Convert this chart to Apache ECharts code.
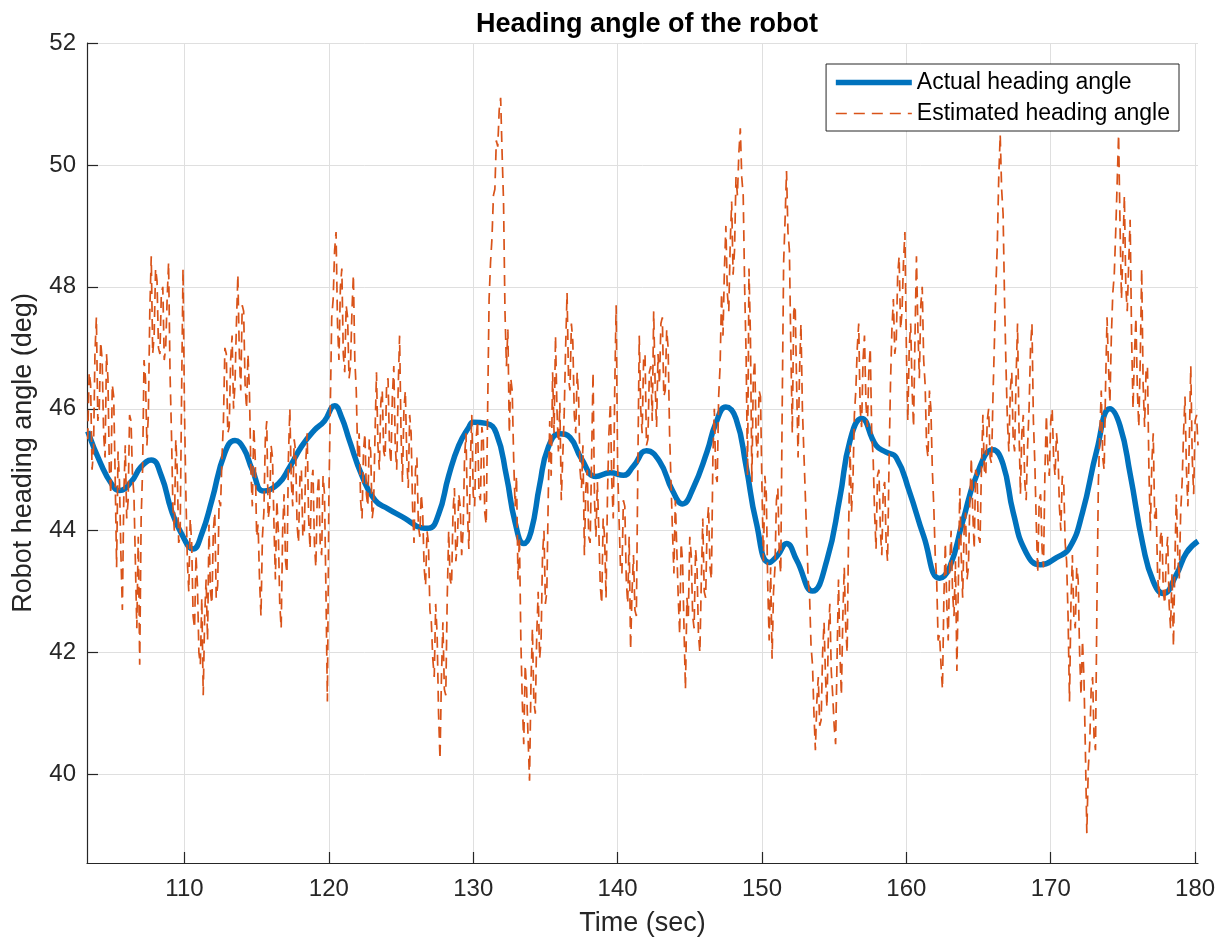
<!DOCTYPE html>
<html>
<head>
<meta charset="utf-8">
<script src="https://cdn.jsdelivr.net/npm/echarts@6/dist/echarts.min.js"></script>
<style>
html,body{margin:0;padding:0;background:#fff;}
#chart{width:1230px;height:943px;}
</style>
</head>
<body>
<div id="chart"></div>
<script>
// ---- data ----
const chartTitle = 'Heading angle of the robot';
const xName = 'Time (sec)';
const yName = 'Robot heading angle (deg)';
const seriesNames = ['Actual heading angle', 'Estimated heading angle'];
const xTicks = [110, 120, 130, 140, 150, 160, 170, 180];
const yTicks = [40, 42, 44, 46, 48, 50, 52];

// Actual heading angle (smooth curve), sample times and values
const actualTime = [103.3,104.2,105.0,105.5,106.3,107.0,107.7,108.4,109.1,109.8,110.6,111.2,111.9,112.8,113.5,114.1,114.7,115.5,116.5,117.3,118.1,119.0,119.7,120.4,120.9,121.4,122.3,123.2,124.1,125.3,126.4,126.9,127.6,128.3,129.0,129.7,130.0,130.9,131.6,132.3,132.9,133.5,134.0,134.6,135.2,136.0,136.7,137.5,138.5,139.5,140.4,141.1,142.0,142.9,143.8,144.5,145.2,146.2,146.8,147.5,148.2,148.9,149.6,150.5,151.1,151.7,152.4,153.5,154.5,155.4,156.1,156.9,157.9,158.6,159.3,160.2,161.2,162.3,163.0,163.9,164.9,166.0,166.7,167.4,168.3,169.3,170.4,171.3,172.2,173.2,174.1,174.8,175.5,176.4,177.1,177.8,178.7,179.4,180.2];
const actualAngle = [45.63,45.1,44.75,44.66,44.8,45.05,45.16,44.9,44.33,43.95,43.70,43.95,44.5,45.28,45.48,45.35,45.0,44.65,44.77,45.05,45.38,45.65,45.8,46.05,45.85,45.5,44.9,44.5,44.36,44.2,44.05,44.04,44.27,44.9,45.4,45.7,45.78,45.76,45.6,44.9,44.14,43.79,43.98,44.75,45.37,45.59,45.53,45.18,44.89,44.95,44.91,45.06,45.31,45.14,44.66,44.44,44.68,45.3,45.76,46.03,45.84,45.06,44.14,43.48,43.6,43.79,43.52,43.01,43.52,44.55,45.48,45.84,45.40,45.29,45.2,44.65,43.91,43.22,43.40,44.15,44.93,45.33,45.09,44.3,43.64,43.44,43.56,43.72,44.3,45.33,46.0,45.72,44.93,43.75,43.17,42.97,43.28,43.64,43.83];

// Estimated heading angle (noisy dashed curve), sampled every 0.1 s from 103.3 s (one row = 1 s)
const estStart = 103.3;
const estStep = 0.1;
const estAngle = [
45.5,46.6,46.4,45.0,45.3,46.9,47.5,45.8,46.0,47.1,
46.8,45.6,45.2,46.9,46.5,45.0,44.6,46.4,46.2,44.9,
43.4,45.3,44.8,43.6,42.7,44.6,45.4,44.2,44.5,45.9,
45.8,44.9,44.6,43.5,42.4,43.9,41.8,44.2,45.0,46.8,
46.5,45.4,45.9,47.6,48.5,46.9,47.2,48.3,48.1,47.0,
46.9,47.9,48.0,46.8,47.0,47.8,48.4,46.6,45.6,44.4,
44.0,45.5,45.0,43.8,43.9,46.2,48.3,46.0,44.6,43.5,
43.0,44.2,43.8,42.6,42.4,43.6,43.1,42.0,41.8,42.9,
41.3,42.6,43.2,42.2,44.1,43.0,42.8,44.0,44.3,42.9,
43.1,44.5,44.4,45.2,45.8,47.0,46.9,45.6,45.7,46.8,
47.2,46.0,46.4,47.4,48.2,46.9,46.3,47.7,47.6,46.4,
46.0,46.9,46.3,45.0,44.4,45.7,45.2,43.9,44.1,43.2,
42.6,43.9,44.3,45.5,45.8,44.2,44.4,45.4,45.2,44.1,
43.2,44.5,44.0,42.8,42.4,44.0,44.6,43.5,43.3,45.2,
46.0,44.8,44.4,45.5,45.3,44.1,43.8,44.9,45.0,43.9,
44.0,45.1,45.6,44.2,43.7,44.8,45.0,43.8,43.4,44.6,
44.9,43.8,43.6,44.9,44.6,43.0,41.2,44.5,46.0,47.5,
47.8,48.6,48.9,47.4,46.8,48.0,48.3,46.9,46.6,47.7,
47.5,46.5,46.7,47.6,48.2,46.8,46.3,45.2,45.6,44.5,
44.2,45.3,45.6,44.6,44.4,45.5,45.3,44.2,44.4,45.6,
46.6,45.4,45.0,46.1,46.3,45.3,45.2,46.4,46.5,45.4,
45.1,46.2,46.7,45.4,45.0,46.3,47.2,45.6,44.8,46.0,
46.3,45.2,44.7,45.9,45.6,44.4,43.8,45.0,45.2,44.1,
43.9,44.6,44.3,43.4,43.1,44.0,43.8,42.7,42.5,41.9,
41.6,42.8,42.3,41.0,40.25,41.6,42.5,41.4,41.3,42.9,
44.0,43.2,43.1,44.3,44.7,43.5,43.8,44.6,44.4,43.6,
44.0,45.2,45.6,44.3,43.7,45.1,45.9,44.6,44.4,45.5,
45.8,44.6,44.5,45.7,45.5,44.3,44.1,46.0,47.8,48.4,
48.8,49.5,49.6,50.4,50.3,50.9,51.1,50.2,49.4,47.6,
46.7,47.3,45.6,46.5,46.3,45.2,44.4,44.9,43.2,43.9,
42.2,41.2,40.5,41.8,41.4,40.6,39.9,41.5,42.4,41.2,
41.0,42.3,43.0,41.9,42.2,43.6,44.0,42.8,43.0,44.6,
45.8,44.9,46.6,45.6,47.2,46.0,45.3,46.1,44.5,45.2,
45.9,47.0,47.9,46.5,46.3,47.4,47.1,45.9,45.6,46.6,
46.2,45.0,44.7,45.4,43.6,44.7,45.0,43.9,43.8,45.2,
46.6,44.5,43.9,44.8,44.0,43.1,42.8,44.2,43.9,42.9,
44.6,45.6,46.1,44.8,44.2,46.3,47.7,45.1,44.2,43.4,
43.3,44.5,44.4,43.2,42.8,43.9,42.05,43.0,43.6,42.7,
42.6,45.0,47.2,46.0,45.6,46.8,46.9,45.4,45.5,46.6,
46.7,45.8,47.6,46.4,45.7,46.9,46.4,47.4,47.5,46.2,
46.3,47.3,47.0,45.6,44.8,44.0,43.3,44.5,43.7,42.9,
42.3,43.8,43.5,42.4,41.4,42.9,42.6,43.9,43.6,42.6,
42.4,43.7,43.4,42.3,42.0,43.2,44.2,43.0,42.9,44.1,
44.4,43.4,43.2,45.2,46.0,44.9,44.8,46.2,46.7,47.9,
47.2,48.3,49.0,47.9,47.6,48.7,49.4,48.2,48.6,49.8,
49.5,50.2,50.6,49.8,49.5,48.0,46.9,44.9,48.3,47.2,
44.8,46.5,46.8,45.5,45.2,46.3,46.2,44.7,43.5,44.9,
44.6,43.1,42.2,43.4,41.9,43.0,43.4,44.5,44.7,43.6,
43.3,46.0,48.4,49.1,49.9,48.9,48.6,47.0,45.6,47.6,
47.7,46.4,45.2,46.6,47.4,46.0,45.3,44.6,43.9,43.2,
42.9,42.1,41.8,41.0,40.4,41.2,41.6,40.8,40.9,42.0,
42.5,41.6,41.1,42.3,42.8,41.7,41.3,40.8,40.5,41.9,
43.2,42.0,41.3,42.6,43.4,42.4,42.0,44.0,45.4,44.3,
44.8,45.9,46.3,47.0,47.4,46.0,45.7,46.8,47.2,46.1,
45.7,46.6,47.0,45.6,45.2,44.3,43.7,44.9,45.0,44.0,
43.6,44.7,44.8,43.8,43.5,45.1,46.4,47.3,47.8,46.9,
47.1,48.2,48.5,47.3,47.6,48.4,48.9,47.0,45.8,47.0,
47.4,46.3,45.7,47.2,48.5,47.3,46.5,47.7,48.0,46.8,
46.4,45.4,45.2,46.3,46.0,45.0,44.4,43.6,43.2,42.2,
42.3,41.8,41.4,42.9,43.8,42.8,42.2,43.4,44.0,43.0,
42.6,43.5,41.7,43.1,44.7,43.6,42.9,44.0,44.3,43.2,
43.4,44.5,45.2,44.3,43.7,45.0,44.9,43.9,43.8,45.0,
45.9,45.0,44.9,45.8,46.0,45.2,45.1,46.2,47.1,48.0,
48.7,49.8,50.5,49.6,49.2,47.8,46.7,45.8,45.3,46.3,
46.6,45.5,45.3,46.5,47.4,45.7,44.6,45.6,45.9,44.8,
44.5,45.4,46.0,47.0,47.4,45.8,45.1,44.1,43.3,44.5,
44.6,43.7,43.4,45.0,45.9,45.1,44.9,45.8,46.0,45.2,
44.9,45.6,45.3,44.4,44.0,44.9,44.8,43.8,43.5,42.6,
41.2,42.8,43.6,42.6,42.4,43.4,43.2,42.0,41.3,42.2,
41.6,40.4,39.04,40.1,40.5,41.4,41.6,40.6,40.4,42.8,
44.8,45.6,46.3,45.2,45.0,46.4,47.5,46.7,46.1,47.2,
47.9,48.2,48.9,49.7,50.5,49.0,47.8,48.6,49.5,48.0,
47.6,48.4,49.1,47.2,46.0,46.9,47.5,46.3,45.7,46.8,
48.3,46.4,45.7,46.6,46.7,45.0,44.0,45.1,45.6,44.2,
44.4,43.3,42.9,43.9,44.0,43.0,42.8,43.6,43.9,42.8,
42.4,43.3,42.1,43.5,44.6,43.6,43.2,44.3,44.8,45.6,
46.2,45.0,44.4,45.5,46.7,45.2,44.6,45.8,45.9,45.4
];

// ---- build chart ----
const actualData = actualTime.map((t, i) => [t, actualAngle[i]]);
const estData = estAngle.map((v, i) => [Math.round((estStart + i * estStep) * 100) / 100, v]);

const axisColor = '#262626';
const gridColor = '#dfdfdf';
const font = 'Liberation Sans, Arial, Helvetica, sans-serif';

const chart = echarts.init(document.getElementById('chart'), null, {renderer: 'canvas'});
chart.setOption({
  animation: false,
  backgroundColor: '#fff',
  title: {
    text: chartTitle,
    left: 642,
    textAlign: 'center',
    top: 6,
    textStyle: {fontFamily: font, fontSize: 27, fontWeight: 'bold', color: '#000'}
  },
  legend: {
    orient: 'vertical',
    right: 51,
    top: 64,
    padding: [7, 9, 6, 7],
    itemGap: 8,
    itemWidth: 76,
    itemHeight: 16,
    backgroundColor: '#fff',
    borderColor: axisColor,
    borderWidth: 1,
    borderRadius: 0,
    itemStyle: {opacity: 0},
    lineStyle: {width: 'inherit'},
    textStyle: {fontFamily: font, fontSize: 23, color: '#000'},
    data: seriesNames
  },
  grid: {left: 87, top: 43, width: 1111, height: 820, containLabel: false},
  xAxis: {
    type: 'value',
    min: 103.25,
    max: 180.2,
    splitNumber: 8,
    minInterval: 10,
    maxInterval: 10,
    name: xName,
    nameLocation: 'middle',
    nameGap: 47,
    nameTextStyle: {fontFamily: font, fontSize: 27, color: axisColor},
    axisLine: {show: true, onZero: false, lineStyle: {color: axisColor, width: 1.2}},
    axisTick: {show: true, inside: true, length: 11, customValues: xTicks, lineStyle: {color: axisColor, width: 1.2}},
    axisLabel: {show: true, margin: 14, customValues: xTicks,
      fontFamily: font, fontSize: 24, color: axisColor},
    splitLine: {show: true, lineStyle: {color: gridColor, width: 1}}
  },
  yAxis: {
    type: 'value',
    min: 38.55,
    max: 52,
    minInterval: 2,
    maxInterval: 2,
    name: yName,
    nameLocation: 'middle',
    nameGap: 50,
    nameRotate: 90,
    nameTextStyle: {fontFamily: font, fontSize: 27, color: axisColor},
    axisLine: {show: true, onZero: false, lineStyle: {color: axisColor, width: 1.2}},
    axisTick: {show: true, inside: true, length: 11, customValues: yTicks, lineStyle: {color: axisColor, width: 1.2}},
    axisLabel: {show: true, margin: 11, customValues: yTicks,
      fontFamily: font, fontSize: 24, color: axisColor},
    splitLine: {show: true, lineStyle: {color: gridColor, width: 1}}
  },
  series: [
    {
      name: seriesNames[0],
      type: 'line',
      data: actualData,
      smooth: 0.5,
      symbol: 'none',
      lineStyle: {color: '#0072BD', width: 5.5},
      itemStyle: {color: '#0072BD'},
      z: 2
    },
    {
      name: seriesNames[1],
      type: 'line',
      data: estData,
      symbol: 'none',
      lineStyle: {color: '#D95319', width: 1.7, type: [11, 7]},
      itemStyle: {color: '#D95319'},
      z: 3
    }
  ]
});
</script>
</body>
</html>
